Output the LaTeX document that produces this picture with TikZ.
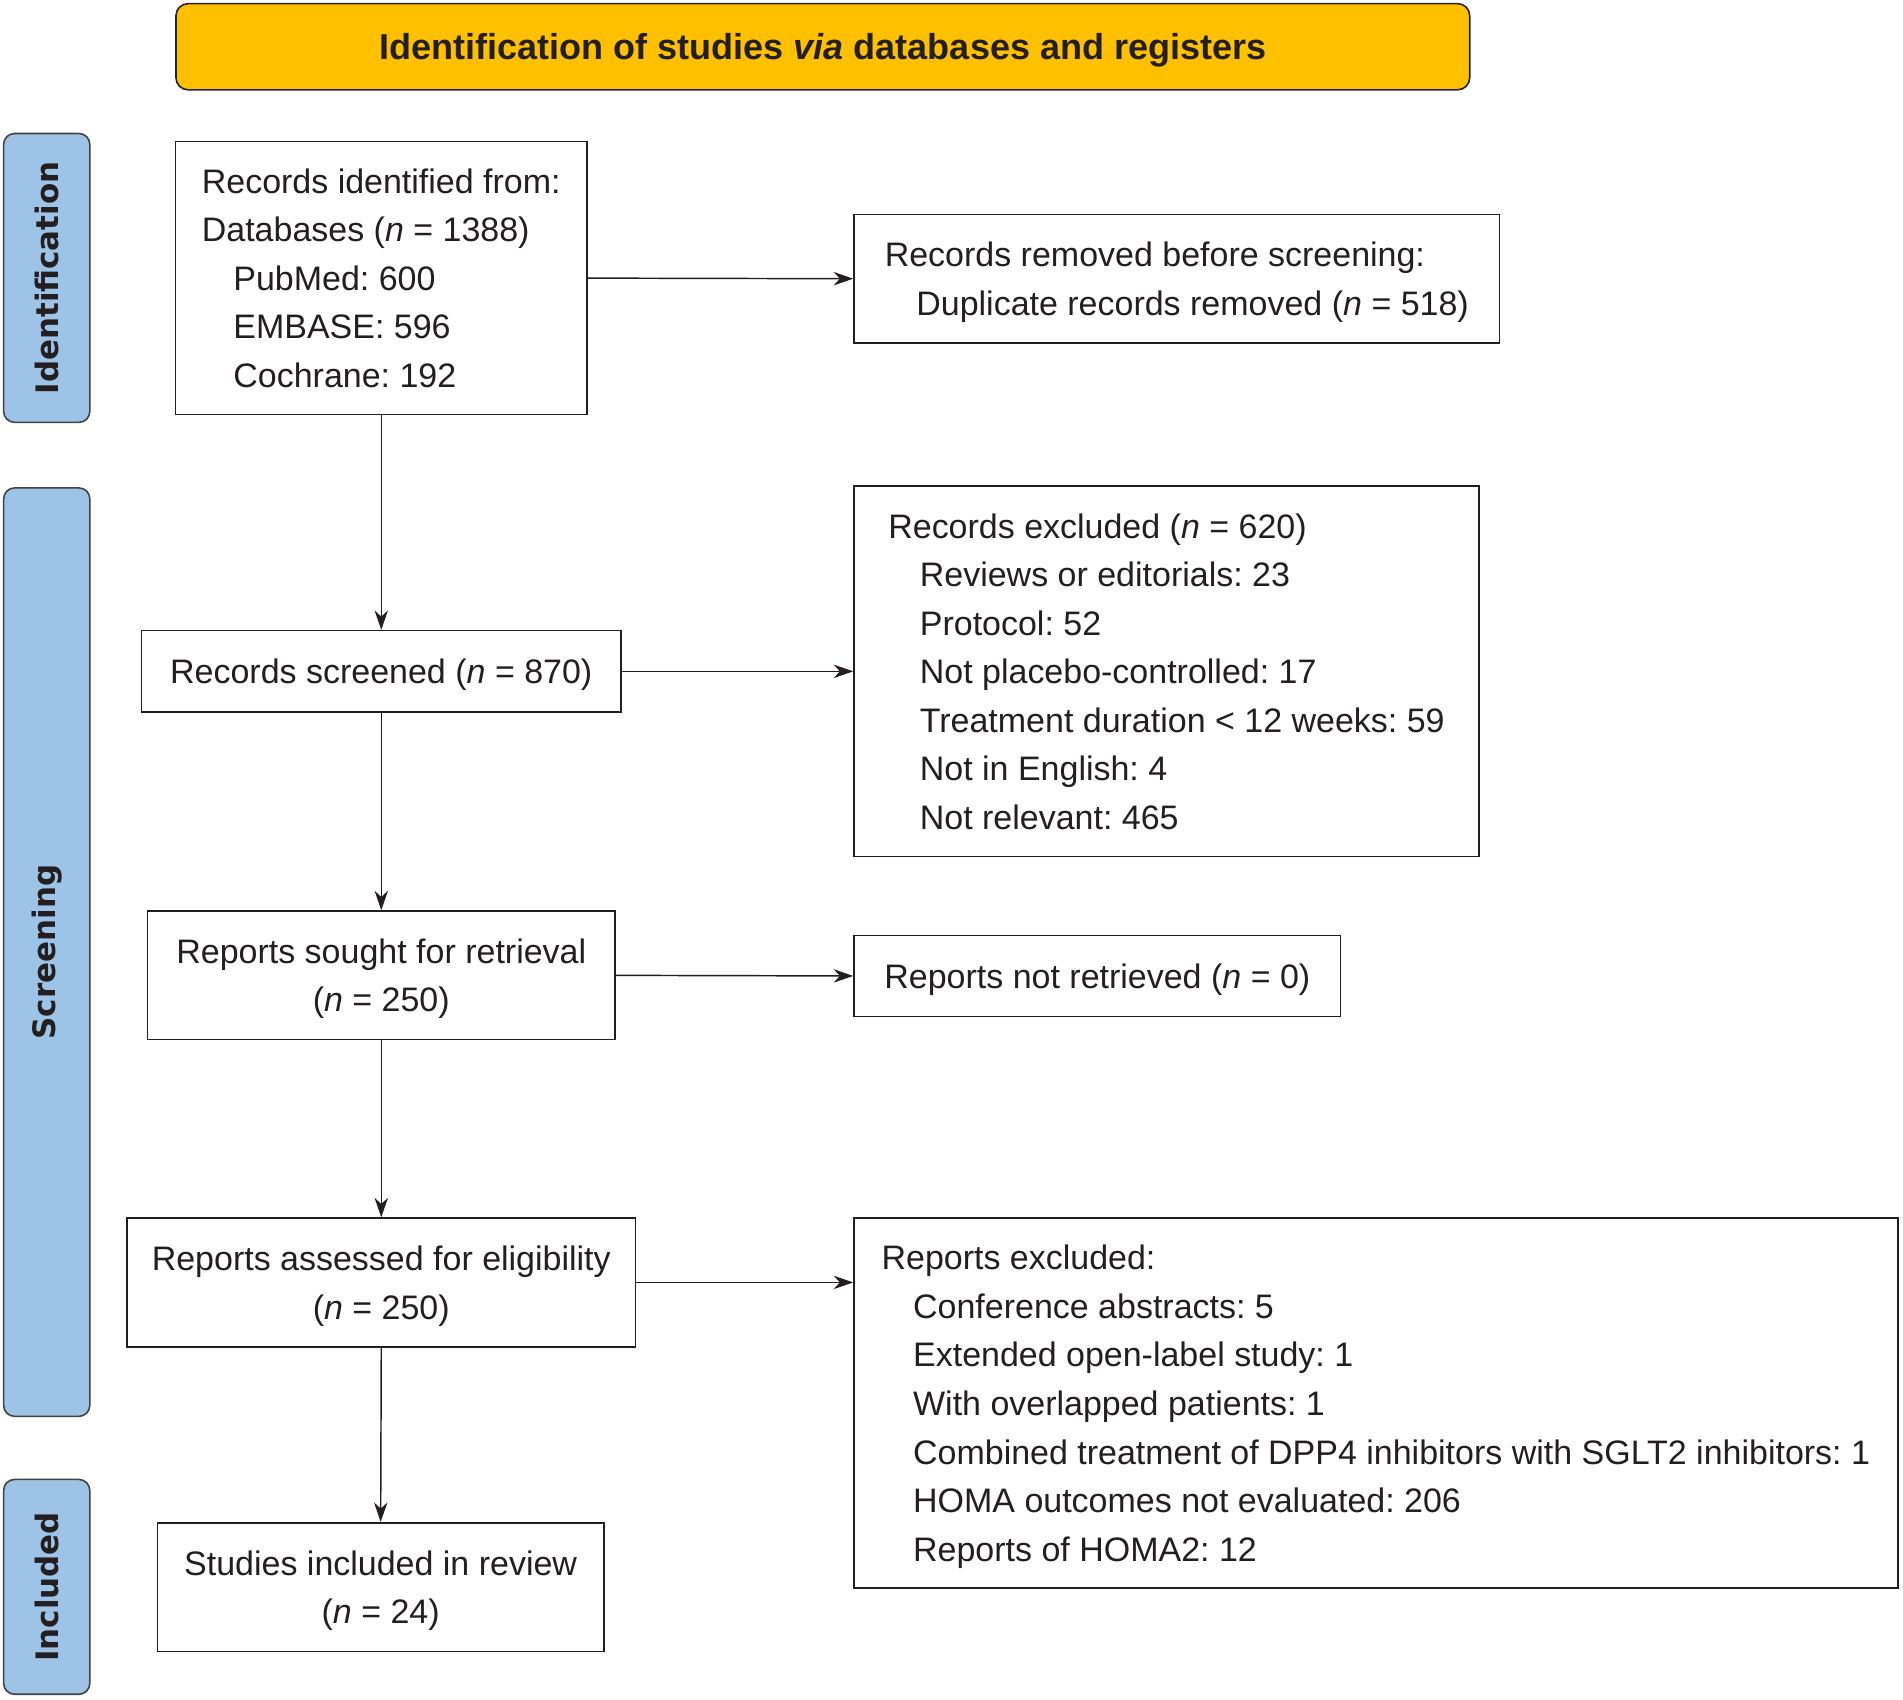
\documentclass[tikz,border=0pt]{standalone}
\usepackage{fontspec}
\setmainfont{Liberation Sans}
\newfontfamily\sidefont{DejaVu Sans}
\usetikzlibrary{arrows.meta}
\definecolor{ink}{HTML}{231F20}
\definecolor{titlefill}{HTML}{FFC000}
\definecolor{sidefill}{HTML}{9DC3E6}
\tikzset{
  box/.style={draw=ink, line width=1.3pt, fill=white, text=ink, inner ysep=0pt,
    inner xsep=0pt, text depth=0pt,
    font=\fontsize{28}{40}\selectfont, anchor=north west},
  lbox/.style={box, align=left},
  cbox/.style={box, align=center},
  sidebox/.style={draw=ink!85, line width=1.3pt, fill=sidefill, rounded corners=9pt,
    rotate=90, minimum height=71pt, inner sep=0pt, text=ink,
    font=\sidefont\bfseries\fontsize{25.5}{30}\selectfont},
  arr/.style={draw=ink, line width=1.2pt, -{Stealth[length=16pt,width=11pt,inset=5pt]}}
}
\newcommand{\ind}{\hspace*{26pt}}
\begin{document}
\frenchspacing
\begin{tikzpicture}[x=1pt,y=-1pt]
\useasboundingbox (0,0) rectangle (1568,1400);
% title
\node[draw=ink, line width=1.3pt, fill=titlefill, rounded corners=10pt,
  minimum width=1066pt, minimum height=71pt, inner sep=0pt, text=ink, text depth=0pt,
  font=\bfseries\fontsize{29.7}{34}\selectfont] (title) at (678,38.5)
  {Identification of studies \textit{via} databases and registers};
% side labels
\node[sidebox, minimum width=238pt] (sid) at (38.5,229) {Identification};
\node[sidebox, minimum width=765pt] (sscr) at (38.5,784.5) {Screening};
\node[sidebox, minimum width=177pt] (sinc) at (38.5,1307.5) {Included};
% boxes
\node[lbox, minimum width=339pt, minimum height=225pt] (b1) at (144,116)
  {Records identified from:\\Databases (\textit{n} = 1388)\\\ind PubMed: 600\\\ind EMBASE: 596\\\ind Cochrane: 192};
\node[lbox, minimum width=532pt, minimum height=106pt] (b2) at (703,176)
  {Records removed before screening:\\\ind Duplicate records removed (\textit{n} = 518)};
\node[cbox, minimum width=395pt, minimum height=67pt] (b3) at (116,519)
  {Records screened (\textit{n} = 870)};
\node[lbox, minimum width=515pt, minimum height=305pt] (b4) at (703,400)
  {Records excluded (\textit{n} = 620)\\\ind Reviews or editorials: 23\\\ind Protocol: 52\\\ind Not placebo-controlled: 17\\\ind Treatment duration < 12 weeks: 59\\\ind Not in English: 4\\\ind Not relevant: 465};
\node[cbox, minimum width=385pt, minimum height=106pt] (b5) at (121,750)
  {Reports sought for retrieval\\(\textit{n} = 250)};
\node[cbox, minimum width=401pt, minimum height=67pt] (b6) at (703,770)
  {Reports not retrieved (\textit{n} = 0)};
\node[cbox, minimum width=419pt, minimum height=106pt] (b7) at (104,1003)
  {Reports assessed for eligibility\\(\textit{n} = 250)};
\node[lbox, minimum width=860pt, minimum height=305pt] (b8) at (703,1003)
  {Reports excluded:\\\ind Conference abstracts: 5\\\ind Extended open-label study: 1\\\ind With overlapped patients: 1\\\ind Combined treatment of DPP4 inhibitors with SGLT2 inhibitors: 1\\\ind HOMA outcomes not evaluated: 206\\\ind Reports of HOMA2: 12};
\node[cbox, minimum width=368pt, minimum height=106pt] (b9) at (129,1254)
  {Studies included in review\\(\textit{n} = 24)};
% connectors
\draw[arr] (b1.south) -- (b3.north);
\draw[arr] (b3.south) -- (b5.north);
\draw[arr] (b5.south) -- (b7.north);
\draw[arr] (b7.south) -- (b9.north);
\draw[arr] (b1.east) -- (b2.west);
\draw[arr] (b3.east) -- (b4.west);
\draw[arr] (b5.east) -- (b6.west);
\draw[arr] (b7.east) -- (b7.east -| b8.west);
\end{tikzpicture}
\end{document}
